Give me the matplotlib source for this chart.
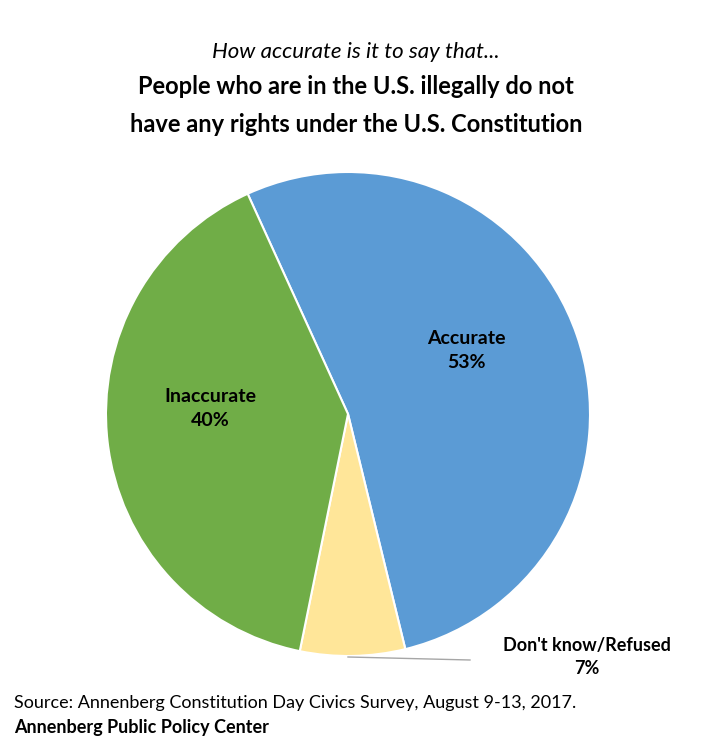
import matplotlib.pyplot as plt

labels = ['Accurate', "Don't know/Refused", 'Inaccurate']
values = [53, 7, 40]
colors = ['#5B9BD5', '#FFE699', '#70AD47']

plt.rcParams['font.family'] = 'Lato'
W, H = 712, 750
fig = plt.figure(figsize=(W / 100, H / 100), dpi=100)

cx, cy, r = 348, 414, 242
ax = fig.add_axes([(cx - r) / W, (H - cy - r) / H, 2 * r / W, 2 * r / H])
ax.pie(values, colors=colors, startangle=114.5, counterclock=False,
       wedgeprops=dict(edgecolor='white', linewidth=1.5), radius=1)
ax.set_xlim(-1, 1)
ax.set_ylim(-1, 1)
ax.axis('off')

def px(x, y):
    return x / W, 1 - y / H

fig.text(*px(356, 52), 'How accurate is it to say that...', ha='center', va='center',
         fontsize=16, style='italic')
fig.text(*px(356, 86), 'People who are in the U.S. illegally do not', ha='center',
         va='center', fontsize=17, weight='bold')
fig.text(*px(356, 124), 'have any rights under the U.S. Constitution', ha='center',
         va='center', fontsize=17, weight='bold')

fig.text(*px(466, 350), f'{labels[0]}\n{values[0]}%', ha='center', va='center',
         fontsize=14, weight='bold', linespacing=1.5)
fig.text(*px(210, 408), f'{labels[2]}\n{values[2]}%', ha='center', va='center',
         fontsize=14, weight='bold', linespacing=1.5)
fig.text(*px(587, 657), f'{labels[1]}\n{values[1]}%', ha='center', va='center',
         fontsize=13, weight='bold', linespacing=1.4)
fig.add_artist(plt.Line2D([348 / W, 470 / W], [1 - 657 / H, 1 - 660 / H],
                          color='#A6A6A6', linewidth=1))

fig.text(*px(14, 703), 'Source: Annenberg Constitution Day Civics Survey, August 9-13, 2017.',
         ha='left', va='center', fontsize=13)
fig.text(*px(14, 728), 'Annenberg Public Policy Center', ha='left', va='center',
         fontsize=13, weight='bold')

fig.savefig('out.png', dpi=100)
